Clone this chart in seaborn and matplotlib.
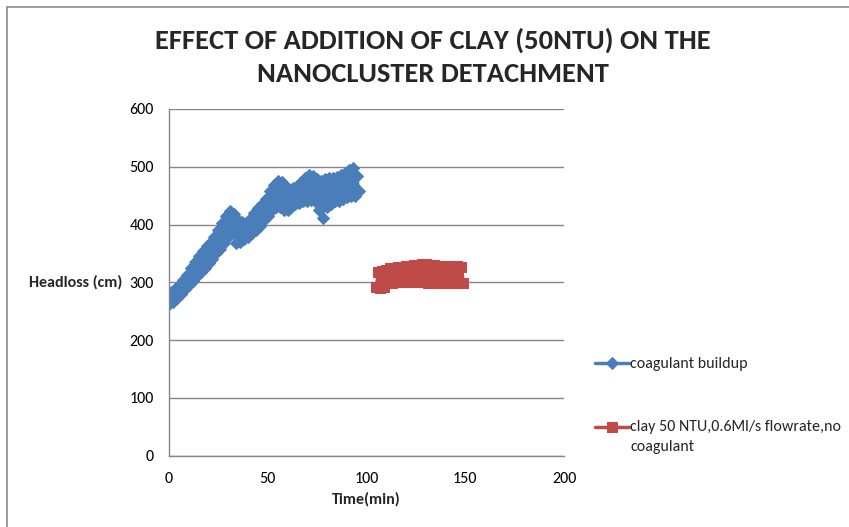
import matplotlib
matplotlib.use("Agg")
import matplotlib.pyplot as plt
import seaborn as sns
import pandas as pd
from matplotlib import font_manager
from matplotlib.lines import Line2D

# ---------------- data ----------------
blue_time = [0, 1, 2, 3, 4, 5, 6, 7, 8, 9, 10, 11, 12, 13, 14, 15, 16, 17, 18, 19,
             20, 21, 22, 23, 24, 25, 26, 27, 28, 29, 30, 31, 32, 33, 34, 35, 36, 37, 38, 39,
             40, 41, 42, 43, 44, 45, 46, 47, 48, 49, 50, 51, 52, 53, 54, 55, 56, 57, 58, 59,
             60, 61, 62, 63, 64, 65, 66, 67, 68, 69, 70, 71, 72, 73, 74, 75, 76, 77, 78, 79,
             80, 81, 82, 83, 84, 85, 86, 87, 88, 89, 90, 91, 92, 93, 94, 95, 96]
blue_headloss = [262, 283, 266, 288, 272, 296, 280, 304, 288, 313, 296, 324, 302, 335, 310, 345, 318, 354, 325, 362,
                 333, 368, 340, 378, 350, 390, 358, 402, 368, 415, 378, 423, 385, 418, 368, 408, 370, 404, 375, 403,
                 378, 410, 385, 420, 390, 428, 398, 436, 408, 445, 415, 458, 425, 468, 430, 475, 430, 474, 425, 465,
                 425, 461, 430, 463, 435, 467, 438, 474, 440, 480, 440, 485, 442, 484, 440, 479, 425, 476, 412, 478,
                 430, 481, 435, 481, 440, 482, 440, 486, 445, 490, 448, 495, 450, 497, 450, 484, 458]

red_time = [105, 106, 107, 108, 109, 110, 111, 112, 113, 114, 115, 116, 117, 118, 119, 120, 121, 122, 123, 124,
            125, 126, 127, 128, 129, 130, 131, 132, 133, 134, 135, 136, 137, 138, 139, 140, 141, 142, 143, 144,
            145, 146, 147, 148, 149]
red_headloss = [292, 318, 290, 320, 291, 322, 298, 324, 299, 325, 300, 326, 300, 327, 301, 328, 300, 329, 301, 330,
                300, 330, 300, 331, 300, 331, 299, 330, 300, 330, 299, 329, 299, 329, 298, 328, 298, 328, 298, 328,
                298, 328, 298, 327, 299]

series_names = ["coagulant buildup", "clay 50 NTU,0.6Ml/s flowrate,no\ncoagulant"]
title_text = "EFFECT OF ADDITION OF CLAY (50NTU) ON THE\nNANOCLUSTER DETACHMENT"
x_ticks = [0, 50, 100, 150, 200]
y_ticks = [0, 100, 200, 300, 400, 500, 600]

# ---------------- style ----------------
sns.set_style("white")
avail = {f.name for f in font_manager.fontManager.ttflist}
main_font = "Carlito" if "Carlito" in avail else "Lato"
plt.rcParams["font.family"] = [main_font, "DejaVu Sans"]

BLUE = "#4A7EBB"
RED = "#BE4B48"
GRID = "#868686"
FS = 11.5

fig = plt.figure(figsize=(8.49, 5.27), dpi=100)
ax = fig.add_axes([169 / 849, 1 - 455.5 / 527, (564 - 169) / 849, (455.5 - 109) / 527])

df_b = pd.DataFrame({"t": blue_time, "h": blue_headloss})
df_r = pd.DataFrame({"t": red_time, "h": red_headloss})
sns.lineplot(data=df_b, x="t", y="h", ax=ax, sort=False, estimator=None, color=BLUE,
             lw=2.5, marker="D", markersize=6, markeredgecolor=BLUE, markerfacecolor=BLUE,
             label=series_names[0])
sns.lineplot(data=df_r, x="t", y="h", ax=ax, sort=False, estimator=None, color=RED,
             lw=2.5, marker="s", markersize=6.5, markeredgecolor=RED, markerfacecolor=RED,
             label=series_names[1])

ax.set_xlim(0, 200)
ax.set_ylim(0, 600)
ax.set_xticks(x_ticks)
ax.set_yticks(y_ticks)
ax.tick_params(axis="both", labelsize=FS, colors="#000000", length=5, width=1, direction="out")
ax.tick_params(axis="both", color=GRID)
ax.tick_params(axis="x", pad=7)
ax.tick_params(axis="y", pad=6)
ax.yaxis.grid(True, color=GRID, lw=1)
ax.xaxis.grid(False)
for s in ["top", "right"]:
    ax.spines[s].set_visible(False)
for s in ["left", "bottom"]:
    ax.spines[s].set_color(GRID)
    ax.spines[s].set_linewidth(1)
ax.set_axisbelow(True)

ax.set_xlabel("Time(min)", fontsize=FS, fontweight="bold", labelpad=4)
ax.set_ylabel("Headloss (cm)", fontsize=FS, fontweight="bold", rotation=0, labelpad=0)
ax.yaxis.set_label_coords((122 - 169) / (564 - 169), 0.5)
ax.yaxis.label.set_horizontalalignment("right")
ax.yaxis.label.set_verticalalignment("center")

fig.text(433 / 849, 1 - 57 / 527, title_text, ha="center", va="center", fontsize=20.5,
         fontweight="bold", linespacing=1.45)

leg = ax.legend(loc="upper left", bbox_to_anchor=(595 / 849, 1 - 357 / 527),
                bbox_transform=fig.transFigure, frameon=False, fontsize=FS,
                handlelength=2.1, handletextpad=0.12, labelspacing=2.45, borderpad=0,
                borderaxespad=0)
t2 = leg.get_texts()[1]
t2.set_linespacing(1.55)
t2.set_position((0, -10))

# figure border (left + top visible)
fig.add_artist(Line2D([7 / 849, 7 / 849], [0, 1 - 7 / 527], transform=fig.transFigure,
                      color="#8C8C8C", lw=1.2))
fig.add_artist(Line2D([7 / 849, 1], [1 - 7 / 527, 1 - 7 / 527], transform=fig.transFigure,
                      color="#8C8C8C", lw=1.2))

fig.savefig("out.png", dpi=100)
